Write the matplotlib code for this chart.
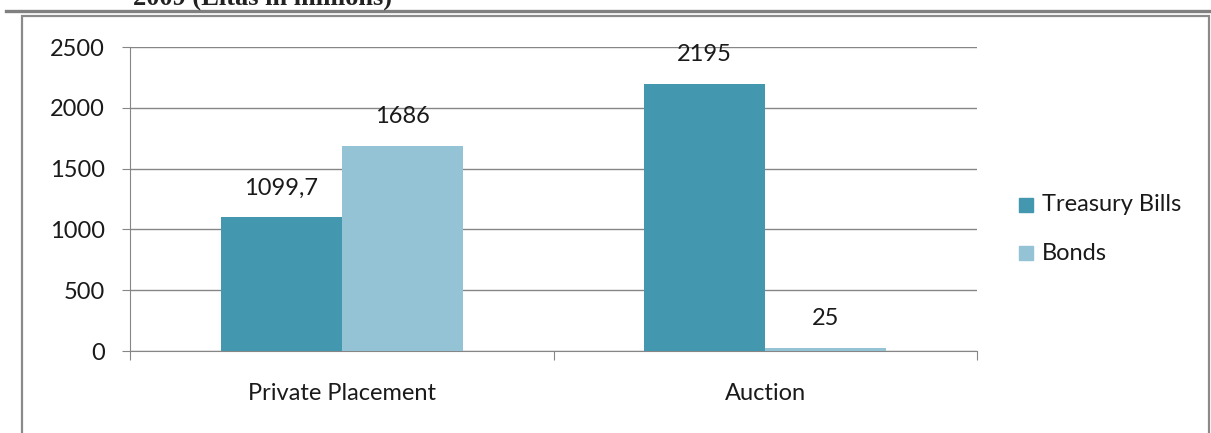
import matplotlib
matplotlib.use("Agg")
import matplotlib.pyplot as plt
from matplotlib.patches import Rectangle
from matplotlib.lines import Line2D
import numpy as np

categories = ["Private Placement", "Auction"]
series_names = ["Treasury Bills", "Bonds"]
treasury_bills = [1099.7, 2195]
bonds = [1686, 25]
value_labels = [["1099,7", "2195"], ["1686", "25"]]
y_ticks = [0, 500, 1000, 1500, 2000, 2500]

colors = ["#4398B0", "#93C3D5"]
grid_color = "#868686"
text_color = "#1a1a1a"
font = "Lato"
fs = 17

W, H = 1211, 433
fig = plt.figure(figsize=(W / 100, H / 100), dpi=100)

def fx(px):
    return px / W

def fy(py):
    return 1 - py / H

# heading cut off at the top of the page
fig.text(fx(133), fy(5), "2009 (Litas in millions)", family="Liberation Serif",
         weight="bold", fontsize=19, color="#222222", ha="left", va="baseline")
fig.add_artist(Line2D([fx(6), fx(1211)], [fy(10.5), fy(10.5)], transform=fig.transFigure,
                      color="#808080", lw=2.4))

# chart frame
fig.add_artist(Rectangle((fx(22), fy(450)), fx(1209) - fx(22), fy(16) - fy(450),
                         transform=fig.transFigure, fill=False, edgecolor="#8a8a8a", lw=1.6))

ax = fig.add_axes([fx(130), fy(351), fx(977) - fx(130), fy(47) - fy(351)])

x = np.arange(len(categories))
bw = 121 / 423.5
series = [treasury_bills, bonds]
for i, (vals, c, name) in enumerate(zip(series, colors, series_names)):
    pos = x + (i - 0.5) * bw
    bars = ax.bar(pos, vals, width=bw, color=c, label=name, zorder=3)
    for b, lab in zip(bars, value_labels[i]):
        ax.annotate(lab, (b.get_x() + b.get_width() / 2, b.get_height()),
                    xytext=(0, 21), textcoords="offset points", ha="center", va="center",
                    fontsize=fs, family=font, color=text_color)

ax.set_xlim(-0.5, 1.5)
ax.set_ylim(0, 2500)
ax.set_yticks(y_ticks)
ax.yaxis.grid(True, color=grid_color, lw=1, zorder=0)
for s in ["top", "right"]:
    ax.spines[s].set_visible(False)
ax.spines["left"].set_color(grid_color)
ax.spines["bottom"].set_color(grid_color)
ax.tick_params(axis="y", length=6, color=grid_color, labelsize=fs, labelcolor=text_color, pad=12)
for t in ax.get_yticklabels():
    t.set_family(font)

# category labels at the centres, tick marks at the category boundaries
ax.set_xticks([-0.5, 0.5, 1.5])
ax.set_xticklabels([])
ax.tick_params(axis="x", length=6.5, color=grid_color)
for xi, cat in zip(x, categories):
    ax.text(xi, -0.141, cat, transform=ax.get_xaxis_transform(), ha="center", va="center",
            fontsize=fs, family=font, color=text_color)

# legend entries
for name, c, cy in zip(series_names, colors, [204.5, 253]):
    fig.add_artist(Rectangle((fx(1019), fy(cy + 7)), fx(14), 14 / H,
                             transform=fig.transFigure, color=c))
    fig.text(fx(1042), fy(cy), name, family=font, fontsize=fs, color=text_color,
             ha="left", va="center")

fig.savefig("out.png", dpi=100)
